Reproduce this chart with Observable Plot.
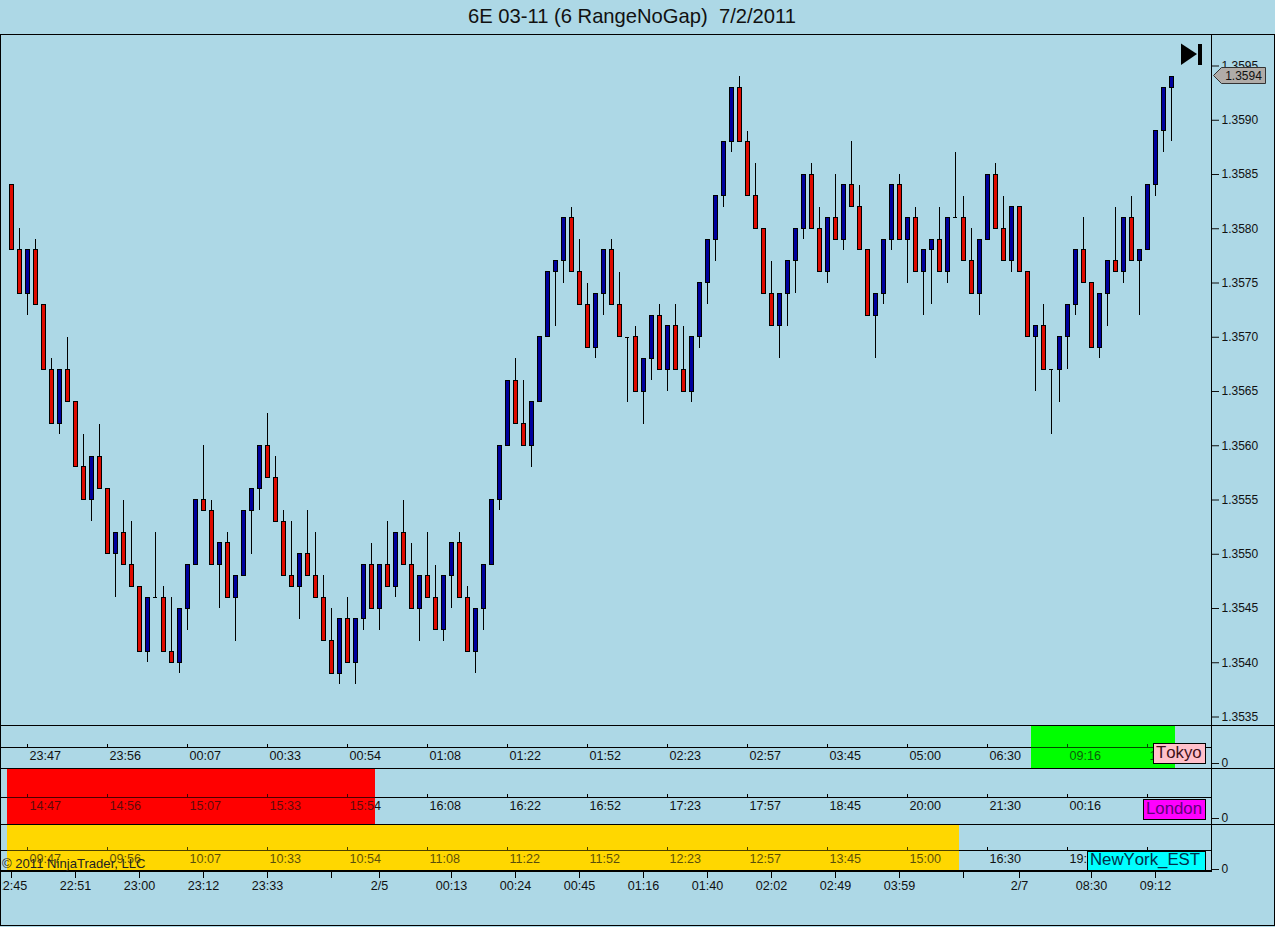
<!DOCTYPE html>
<html>
<head>
<meta charset="utf-8">
<script src="https://cdn.jsdelivr.net/npm/d3@7"></script>
<script src="https://cdn.jsdelivr.net/npm/@observablehq/plot@0.6"></script>
<style>
  html, body { margin: 0; padding: 0; background: #ADD8E6; }
  body { width: 1275px; height: 927px; overflow: hidden; position: relative; font-family: "Liberation Sans", Arial, sans-serif; color: #111; }
  .layer { position: absolute; left: 0; }
  .line { position: absolute; background: #000; }
  .title { position: absolute; left: 0; width: 1264px; top: 0; height: 34px; line-height: 33px; text-align: center; font-size: 20.2px; white-space: pre; color: #111; }
  .tag { position: absolute; box-sizing: border-box; border: 1px solid #000; font-size: 16.8px; white-space: pre; line-height: 17px; padding-left: 2px; font-kerning: none; }
  .copy { position: absolute; left: 2px; top: 856px; font-size: 13.1px; line-height: 16px; color: #222; white-space: pre; }
</style>
</head>
<body>
<script>
const open = [1.3584,1.3578,1.3574,1.3578,1.3573,1.3567,1.3562,1.3567,1.3564,1.3558,
1.3555,1.3559,1.3556,1.3550,1.3552,1.3549,1.3547,1.3541,1.3546,1.3546,
1.3541,1.3540,1.3545,1.3549,1.3555,1.3554,1.3549,1.3551,1.3546,1.3548,
1.3554,1.3556,1.3560,1.3557,1.3553,1.3548,1.3547,1.3550,1.3548,1.3546,
1.3542,1.3539,1.3544,1.3540,1.3544,1.3549,1.3545,1.3549,1.3547,1.3552,
1.3549,1.3545,1.3548,1.3546,1.3543,1.3548,1.3551,1.3546,1.3541,1.3545,
1.3549,1.3555,1.3560,1.3566,1.3562,1.3560,1.3564,1.3570,1.3576,1.3577,
1.3581,1.3576,1.3573,1.3569,1.3574,1.3578,1.3573,1.3570,1.3570,1.3565,
1.3568,1.3572,1.3567,1.3571,1.3567,1.3565,1.3570,1.3575,1.3579,1.3583,
1.3588,1.3593,1.3588,1.3583,1.3580,1.3574,1.3571,1.3574,1.3577,1.3580,
1.3585,1.3580,1.3576,1.3581,1.3579,1.3584,1.3582,1.3578,1.3572,1.3574,
1.3579,1.3584,1.3579,1.3581,1.3576,1.3578,1.3579,1.3576,1.3581,1.3581,
1.3577,1.3574,1.3579,1.3585,1.3580,1.3577,1.3582,1.3576,1.3570,1.3571,
1.3567,1.3567,1.3570,1.3573,1.3578,1.3575,1.3569,1.3574,1.3577,1.3576,
1.3581,1.3577,1.3578,1.3584,1.3589,1.3593];
const close = [1.3578,1.3574,1.3578,1.3573,1.3567,1.3562,1.3567,1.3564,1.3558,1.3555,
1.3559,1.3556,1.3550,1.3552,1.3549,1.3547,1.3541,1.3546,1.3546,1.3541,
1.3540,1.3545,1.3549,1.3555,1.3554,1.3549,1.3551,1.3546,1.3548,1.3554,
1.3556,1.3560,1.3557,1.3553,1.3548,1.3547,1.3550,1.3548,1.3546,1.3542,
1.3539,1.3544,1.3540,1.3544,1.3549,1.3545,1.3549,1.3547,1.3552,1.3549,
1.3545,1.3548,1.3546,1.3543,1.3548,1.3551,1.3546,1.3541,1.3545,1.3549,
1.3555,1.3560,1.3566,1.3562,1.3560,1.3564,1.3570,1.3576,1.3577,1.3581,
1.3576,1.3573,1.3569,1.3574,1.3578,1.3573,1.3570,1.3570,1.3565,1.3568,
1.3572,1.3567,1.3571,1.3567,1.3565,1.3570,1.3575,1.3579,1.3583,1.3588,
1.3593,1.3588,1.3583,1.3580,1.3574,1.3571,1.3574,1.3577,1.3580,1.3585,
1.3580,1.3576,1.3581,1.3579,1.3584,1.3582,1.3578,1.3572,1.3574,1.3579,
1.3584,1.3579,1.3581,1.3576,1.3578,1.3579,1.3576,1.3581,1.3581,1.3577,
1.3574,1.3579,1.3585,1.3580,1.3577,1.3582,1.3576,1.3570,1.3571,1.3567,
1.3567,1.3570,1.3573,1.3578,1.3575,1.3569,1.3574,1.3577,1.3576,1.3581,
1.3577,1.3578,1.3584,1.3589,1.3593,1.3594];
const high = [1.3584,1.3580,1.3578,1.3579,1.3573,1.3568,1.3567,1.3570,1.3564,1.3561,
1.3559,1.3562,1.3556,1.3552,1.3555,1.3553,1.3547,1.3546,1.3552,1.3547,
1.3546,1.3545,1.3549,1.3555,1.3560,1.3555,1.3551,1.3552,1.3548,1.3554,
1.3556,1.3560,1.3563,1.3559,1.3554,1.3553,1.3550,1.3554,1.3552,1.3548,
1.3545,1.3544,1.3546,1.3544,1.3549,1.3551,1.3549,1.3553,1.3552,1.3555,
1.3551,1.3548,1.3552,1.3549,1.3548,1.3551,1.3552,1.3547,1.3545,1.3549,
1.3555,1.3560,1.3566,1.3568,1.3566,1.3564,1.3570,1.3576,1.3577,1.3581,
1.3582,1.3579,1.3575,1.3574,1.3578,1.3579,1.3576,1.3570,1.3571,1.3568,
1.3572,1.3573,1.3571,1.3573,1.3571,1.3570,1.3575,1.3579,1.3583,1.3588,
1.3593,1.3594,1.3589,1.3586,1.3580,1.3577,1.3574,1.3577,1.3580,1.3585,
1.3586,1.3582,1.3581,1.3585,1.3584,1.3588,1.3584,1.3578,1.3574,1.3579,
1.3584,1.3585,1.3581,1.3582,1.3578,1.3579,1.3582,1.3581,1.3587,1.3583,
1.3580,1.3579,1.3585,1.3586,1.3583,1.3582,1.3582,1.3576,1.3571,1.3573,
1.3567,1.3570,1.3573,1.3578,1.3581,1.3575,1.3574,1.3577,1.3582,1.3581,
1.3583,1.3578,1.3584,1.3589,1.3593,1.3594];
const low = [1.3578,1.3574,1.3572,1.3573,1.3567,1.3562,1.3561,1.3564,1.3558,1.3555,
1.3553,1.3556,1.3550,1.3546,1.3549,1.3547,1.3541,1.3540,1.3546,1.3541,
1.3540,1.3539,1.3543,1.3549,1.3554,1.3549,1.3545,1.3546,1.3542,1.3548,
1.3550,1.3554,1.3557,1.3553,1.3548,1.3547,1.3544,1.3548,1.3546,1.3542,
1.3539,1.3538,1.3540,1.3538,1.3543,1.3545,1.3543,1.3547,1.3546,1.3549,
1.3545,1.3542,1.3546,1.3543,1.3542,1.3545,1.3546,1.3541,1.3539,1.3543,
1.3549,1.3554,1.3560,1.3562,1.3560,1.3558,1.3564,1.3570,1.3571,1.3575,
1.3576,1.3573,1.3569,1.3568,1.3572,1.3573,1.3570,1.3564,1.3565,1.3562,
1.3566,1.3567,1.3565,1.3567,1.3565,1.3564,1.3569,1.3573,1.3577,1.3582,
1.3587,1.3588,1.3583,1.3580,1.3574,1.3571,1.3568,1.3571,1.3574,1.3579,
1.3580,1.3576,1.3575,1.3579,1.3578,1.3582,1.3578,1.3572,1.3568,1.3573,
1.3578,1.3579,1.3575,1.3576,1.3572,1.3573,1.3576,1.3575,1.3581,1.3577,
1.3574,1.3572,1.3579,1.3580,1.3577,1.3576,1.3576,1.3570,1.3565,1.3567,
1.3561,1.3564,1.3567,1.3572,1.3575,1.3569,1.3568,1.3571,1.3576,1.3575,
1.3577,1.3572,1.3578,1.3583,1.3587,1.3588];

const priceTicks = [1.3535,1.3540,1.3545,1.3550,1.3555,1.3560,1.3565,1.3570,1.3575,1.3580,1.3585,1.3590,1.3595];
const lastPrice = "1.3594";

const panelTickBars = [2,12,22,32,42,52,62,72,82,92,102,112,122,132,142];
const tokyoTimes  = ["23:47","23:56","00:07","00:33","00:54","01:08","01:22","01:52","02:23","02:57","03:45","05:00","06:30","09:16","10:12"];
const londonTimes = ["14:47","14:56","15:07","15:33","15:54","16:08","16:22","16:52","17:23","17:57","18:45","20:00","21:30","00:16","01:12"];
const newYorkTimes = ["09:47","09:56","10:07","10:33","10:54","11:08","11:22","11:52","12:23","12:57","13:45","15:00","16:30","19:16","20:12"];

const tokyoSession  = {from: 127.5, to: 145.5};
const londonSession = {from: -0.5, to: 45.5};
const newYorkSession = {from: -0.5, to: 118.5};

const axisBars = [0,8,16,24,32,40,46,55,63,71,79,87,95,103,111,119,126,135,143];
const axisLabels = ["22:45","22:51","23:00","23:12","23:33","","2/5","00:13","00:24","00:45","01:16","01:40","02:02","02:49","03:59","","2/7","08:30","09:12"];

const UP = "#00009c", DOWN = "#de0a00";
const WIDTH = 1275, AXIS_X = 1211;
const xScale = {domain: [-11 / 8, (AXIS_X - 11) / 8], range: [0, AXIS_X], axis: null};
const common = {
  width: WIDTH, marginLeft: 0, marginTop: 0, marginBottom: 0, marginRight: WIDTH - AXIS_X,
  style: {background: "transparent", fontFamily: '"Liberation Sans", Arial, sans-serif', fontSize: "12px", color: "#111", overflow: "visible"}
};

function place(node, top) {
  node.classList.add("layer");
  node.style.top = top + "px";
  document.body.appendChild(node);
}
function line(x, y, w, h) {
  const d = document.createElement("div");
  d.className = "line";
  d.style.cssText = `left:${x}px;top:${y}px;width:${w}px;height:${h}px`;
  document.body.appendChild(d);
}

// Main price pane
const bars = open.map((o, i) => ({i, o, c: close[i], h: high[i], l: low[i]}));
const bodies = bars.filter(d => d.o !== d.c);
const dojis = bars.filter(d => d.o === d.c);
const MAIN_TOP = 34, MAIN_H = 691;
const pxPerPrice = 108500;
const priceAt = py => 1.3595 - (py - 65.5) / pxPerPrice;

place(Plot.plot({
  ...common,
  height: MAIN_H,
  x: xScale,
  y: {domain: [priceAt(MAIN_TOP + MAIN_H), priceAt(MAIN_TOP)], range: [MAIN_H, 0], label: null},
  marks: [
    Plot.ruleX(bars, {x: "i", y1: "l", y2: "h", stroke: "#000", shapeRendering: "crispEdges"}),
    Plot.rect(bodies, {
      x1: d => d.i - 0.25, x2: d => d.i + 0.25, y1: "o", y2: "c",
      fill: d => d.c > d.o ? UP : DOWN, stroke: "#000", shapeRendering: "crispEdges"
    }),
    Plot.ruleY(dojis, {y: "o", x1: d => d.i - 0.3, x2: d => d.i + 0.3, stroke: "#000", shapeRendering: "crispEdges"}),
    Plot.axisY(priceTicks, {anchor: "right", tickSize: 7, tickPadding: 3, tickFormat: d3.format(".4f"), label: null, fontSize: 12})
  ]
}), MAIN_TOP);

// Session panes
function sessionPane(top, h, zeroY, lineY, session, color, times) {
  const labels = panelTickBars.map((b, k) => ({b, t: times[k]}));
  const tickTop = 1 + 3 / (zeroY - lineY);
  place(Plot.plot({
    ...common,
    height: h,
    x: xScale,
    y: {domain: [0, 1], range: [zeroY - top, lineY - top], label: null},
    marks: [
      Plot.rect([session], {x1: "from", x2: "to", fill: color}),
      Plot.ruleY([1], {stroke: "#000"}),
      Plot.ruleX(panelTickBars, {x: d => d, y1: 1, y2: tickTop, stroke: "#000"}),
      Plot.text(labels, {x: "b", y: 1, text: "t", textAnchor: "start", dx: 2, dy: 8, lineAnchor: "middle", fontSize: 12.6, fill: "#111"}),
      Plot.rect([session], {x1: "from", x2: "to", fill: color, fillOpacity: 0.3}),
      Plot.axisY([0], {anchor: "right", tickSize: 7, tickPadding: 3, label: null, fontSize: 12})
    ]
  }), top);
}
sessionPane(725, 43, 763, 747, tokyoSession, "#00ff00", tokyoTimes);
sessionPane(768, 56, 818, 797, londonSession, "#ff0000", londonTimes);
sessionPane(824, 47, 869, 850, newYorkSession, "#ffd700", newYorkTimes);

// Bottom time axis
const BOTTOM_H = 54;
const axisData = axisBars.map((b, k) => ({b, t: axisLabels[k]}));
place(Plot.plot({
  ...common,
  height: BOTTOM_H,
  x: xScale,
  y: {domain: [0, 1], range: [0, BOTTOM_H], axis: null},
  marks: [
    Plot.ruleX(axisBars, {x: d => d, y1: 0, y2: 7 / BOTTOM_H, stroke: "#000"}),
    Plot.text(axisData, {x: "b", text: "t", frameAnchor: "top", dy: 14, lineAnchor: "middle", textAnchor: "middle", fontSize: 12.6, fill: "#111"})
  ]
}), 871);

// Title, frame lines
const title = document.createElement("div");
title.className = "title";
title.textContent = "6E 03-11 (6 RangeNoGap)  7/2/2011";
document.body.appendChild(title);

const cover = document.createElement("div");
cover.style.cssText = "position:absolute;left:0;top:872px;width:2px;height:54px;background:#ADD8E6";
document.body.appendChild(cover);

[34, 725, 768, 824].forEach(y => line(0, y, WIDTH, 1));
line(0, 925, WIDTH, 1);
line(0, 34, 1, 892);
line(1274, 34, 1, 892);
line(AXIS_X, 34, 1, 837);
line(0, 870, AXIS_X + 1, 2);

// Copyright and session tags
const copy = document.createElement("div");
copy.className = "copy";
copy.textContent = "© 2011 NinjaTrader, LLC";
document.body.appendChild(copy);

function tag(text, x1, x2, y1, y2, bg, fg, lh) {
  const d = document.createElement("div");
  d.className = "tag";
  d.textContent = text;
  d.style.cssText = `left:${x1}px;width:${x2 - x1}px;top:${y1}px;height:${y2 - y1}px;background:${bg};color:${fg};line-height:${lh}px`;
  document.body.appendChild(d);
}
tag("Tokyo", 1153, 1206, 743, 764, "#ffc0cb", "#401018", 17);
tag("London", 1143, 1206, 799, 820, "#ff00ff", "#600078", 17);
tag("NewYork_EST", 1087, 1206, 851, 871, "#00ffff", "#00304a", 15);

// Last-price marker and the jump-to-end button
const NS = "http://www.w3.org/2000/svg";
const over = document.createElementNS(NS, "svg");
over.setAttribute("width", WIDTH);
over.setAttribute("height", 100);
over.style.cssText = "position:absolute;left:0;top:0;pointer-events:none";
over.innerHTML = `
  <path d="M1213.5 75.5 L1221.5 67.5 H1265.5 V83.5 H1221.5 Z" fill="#b0aca8" stroke="#333"/>
  <text x="1243.5" y="80" text-anchor="middle" font-size="12" fill="#111" font-family="Liberation Sans, Arial, sans-serif">${lastPrice}</text>
  <path d="M1181 43.5 L1197 54 L1181 65 Z" fill="#000"/>
  <rect x="1198" y="44" width="4" height="21" fill="#000"/>`;
document.body.appendChild(over);
</script>
</body>
</html>
